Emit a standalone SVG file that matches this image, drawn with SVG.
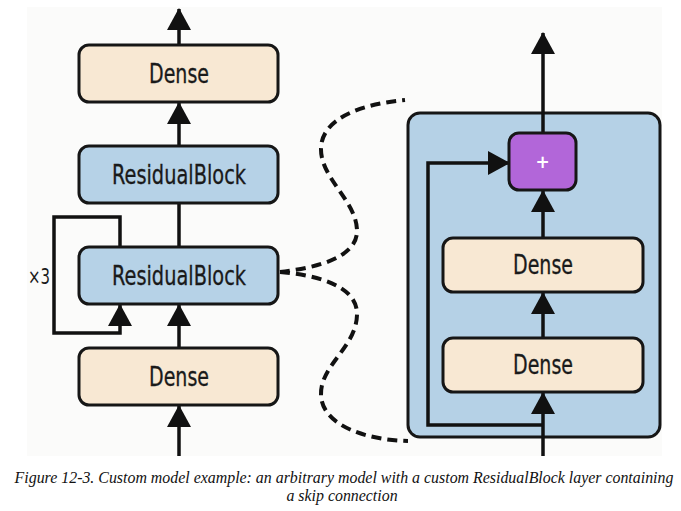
<svg xmlns="http://www.w3.org/2000/svg" width="681" height="511" viewBox="0 0 681 511">
<style>
.dense{fill:#f8e8d3;stroke:#161616;stroke-width:3}
.res{fill:#b6d2e7;stroke:#161616;stroke-width:3}
.lbl{font-family:"DejaVu Sans Condensed","DejaVu Sans","Liberation Sans",sans-serif;font-stretch:condensed;font-size:26px;fill:#1a1a1a;text-anchor:middle;stroke:#1a1a1a;stroke-width:0.3}
.line{fill:none;stroke:#111;stroke-width:3.5}
.dash{fill:none;stroke:#111;stroke-width:4;stroke-dasharray:10 6}
.cap{font-family:"Liberation Serif",serif;font-style:italic;font-size:15.9px;fill:#111;text-anchor:middle}
</style>
<defs>
<marker id="ah" markerUnits="userSpaceOnUse" markerWidth="22" markerHeight="24" viewBox="0 0 22 24" refX="21" refY="12" orient="auto">
<path d="M0,0 L22,12 L0,24 z" fill="#111"/>
</marker>
</defs>
<rect x="27" y="7" width="635" height="449" fill="#fbfbfa"/>
<g id="container">
<rect x="408" y="113" width="252" height="324" rx="12" fill="#b5d1e6" stroke="#161616" stroke-width="3"/>
</g>
<g id="connectors">
<path class="line" d="M179 45 V9" marker-end="url(#ah)"/>
<path class="line" d="M179 146 V103" marker-end="url(#ah)"/>
<path class="line" d="M179 247 V204"/>
<path class="line" d="M179 348 V305" marker-end="url(#ah)"/>
<path class="line" d="M179 456 V406" marker-end="url(#ah)"/>
<path class="line" d="M120 247 V217 H54 V333 H120 V305" marker-end="url(#ah)"/>
<path class="line" d="M543 133 V33" marker-end="url(#ah)"/>
<path class="line" d="M543 238 V191" marker-end="url(#ah)"/>
<path class="line" d="M543 338 V293" marker-end="url(#ah)"/>
<path class="line" d="M543 456 V393" marker-end="url(#ah)"/>
<path class="line" d="M543 425 H428 V163 H509" marker-end="url(#ah)"/>
<path class="dash" d="M280 272 C315 268 358 258 357 230 C356 200 320 178 321 148 C322 118 362 104 405 100"/>
<path class="dash" d="M280 272 C315 275 358 285 357 315 C356 348 320 365 321 395 C322 425 365 440 408 441"/>
</g>
<g id="dense-top">
<rect class="dense" x="79" y="45" width="199" height="57" rx="10"/>
<text class="lbl" x="179" y="83" textLength="60" lengthAdjust="spacingAndGlyphs">Dense</text>
</g>
<g id="resblock-1">
<rect class="res" x="79" y="146" width="199" height="57" rx="10"/>
<text class="lbl" x="179" y="184" textLength="134" lengthAdjust="spacingAndGlyphs">ResidualBlock</text>
</g>
<g id="resblock-2">
<rect class="res" x="79" y="247" width="199" height="57" rx="10"/>
<text class="lbl" x="179" y="285" textLength="134" lengthAdjust="spacingAndGlyphs">ResidualBlock</text>
</g>
<g id="dense-bottom">
<rect class="dense" x="79" y="348" width="199" height="57" rx="10"/>
<text class="lbl" x="179" y="386" textLength="60" lengthAdjust="spacingAndGlyphs">Dense</text>
</g>
<g id="repeat-label">
<text x="39" y="284" font-family="DejaVu Sans Condensed,DejaVu Sans,sans-serif" font-size="21" fill="#1a1a1a" text-anchor="middle" textLength="22" lengthAdjust="spacingAndGlyphs">×3</text>
</g>
<g id="add">
<rect x="509" y="133" width="67" height="57" rx="10" fill="#b266d9" stroke="#161616" stroke-width="3"/>
<text x="542.5" y="168" font-family="DejaVu Sans,sans-serif" font-size="17" font-weight="bold" fill="#ffffff" text-anchor="middle">+</text>
</g>
<g id="dense-inner-1">
<rect class="dense" x="443" y="238" width="200" height="54" rx="10"/>
<text class="lbl" x="543" y="274" textLength="60" lengthAdjust="spacingAndGlyphs">Dense</text>
</g>
<g id="dense-inner-2">
<rect class="dense" x="443" y="338" width="200" height="54" rx="10"/>
<text class="lbl" x="543" y="374" textLength="60" lengthAdjust="spacingAndGlyphs">Dense</text>
</g>
<g id="caption">
<text class="cap" x="344" y="483">Figure 12-3. Custom model example: an arbitrary model with a custom ResidualBlock layer containing</text>
<text class="cap" x="342" y="501">a skip connection</text>
</g>
</svg>
